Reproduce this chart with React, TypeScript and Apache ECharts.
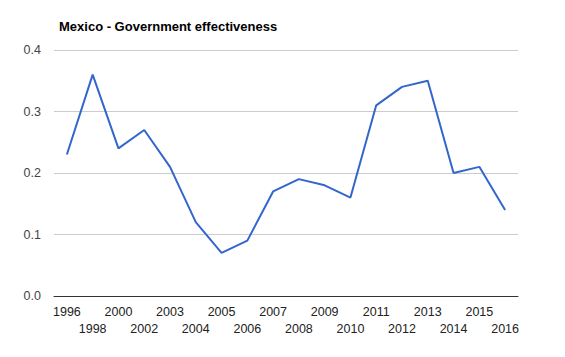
import React, { useEffect, useRef } from "react";
import * as echarts from "echarts";

const years = ["1996","1998","2000","2002","2003","2004","2005","2006","2007","2008","2009","2010","2011","2012","2013","2014","2015","2016"];
const values = [0.23,0.36,0.24,0.27,0.21,0.12,0.07,0.09,0.17,0.19,0.18,0.16,0.31,0.34,0.35,0.20,0.21,0.14];
const title = "Mexico - Government effectiveness";

export default function App() {
  const ref = useRef<HTMLDivElement>(null);
  useEffect(() => {
    const chart = echarts.init(ref.current!, null, { renderer: "svg" });
    chart.setOption({
      animation: false,
      backgroundColor: "#fff",
      title: {
        text: title,
        left: 54,
        top: 15,
        textStyle: { fontFamily: "Liberation Sans, Arial", fontSize: 13, fontWeight: "bold", color: "#000" },
      },
      grid: { left: 54, right: 47, top: 50, bottom: 61 },
      xAxis: {
        type: "category",
        data: years,
        boundaryGap: true,
        axisLine: { lineStyle: { color: "#333", width: 1 } },
        axisTick: { show: false },
        axisLabel: {
          interval: 0,
          margin: 7,
          fontFamily: "Liberation Sans, Arial",
          fontSize: 12.5,
          color: "#222",
          lineHeight: 17,
          formatter: (v: string, i: number) => (i % 2 ? "\n" + v : v + "\n"),
        },
      },
      yAxis: {
        type: "value",
        min: 0,
        max: 0.4,
        interval: 0.1,
        axisLine: { show: false },
        axisTick: { show: false },
        splitLine: { lineStyle: { color: "#ccc" } },
        axisLabel: {
          margin: 13,
          fontFamily: "Liberation Sans, Arial",
          fontSize: 12.5,
          color: "#444",
          formatter: (v: number) => v.toFixed(1),
        },
      },
      series: [
        {
          type: "line",
          data: values,
          symbol: "none",
          lineStyle: { color: "#3366cc", width: 2 },
        },
      ],
    });
    return () => chart.dispose();
  }, []);
  return <div ref={ref} style={{ width: 565, height: 357, position: "absolute", left: 0, top: 0 }} />;
}
